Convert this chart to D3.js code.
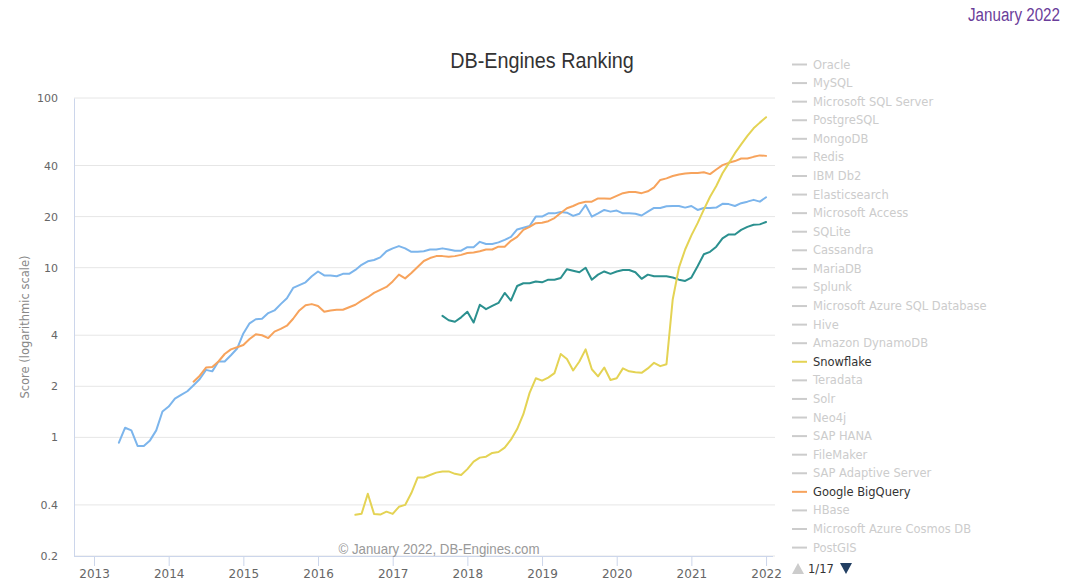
<!DOCTYPE html>
<html lang="en">
<head>
    <meta charset="UTF-8">
    <title>DB-Engines Ranking</title>
    <script src="https://d3js.org/d3.v7.min.js"></script>
    <style>
        body { margin: 0; background: #fff; overflow: hidden; }
        .narrow { font-family: "Liberation Sans", Arial, sans-serif; }
        .tick text { font-family: "DejaVu Sans", sans-serif; font-size: 11px; fill: #666; }
        .legend text { font-family: "DejaVu Sans", sans-serif; font-size: 11.5px; }
        .series { fill: none; stroke-width: 2px; stroke-linejoin: round; stroke-linecap: round; }
    </style>
</head>
<body>
    <div id="chart"></div>
    <script>
        const width = 1080, height = 583;
        const margin = { top: 98, right: 307, bottom: 27, left: 74 };

        // monthly scores, month index 0 = Jan 2013
        const blueStart = 4;
        const blueValues = [0.93, 1.14, 1.1, 0.89, 0.89, 0.96, 1.1, 1.42,
            1.52, 1.69, 1.78, 1.87, 2.03, 2.21, 2.5, 2.45, 2.8, 2.8, 3.05, 3.34,
            4.1, 4.7, 4.97, 5.0, 5.4, 5.6, 6.1, 6.6, 7.6, 7.9, 8.2, 8.9,
            9.5, 9.0, 9.0, 8.9, 9.2, 9.2, 9.7, 10.4, 10.9, 11.1, 11.5, 12.5,
            13.0, 13.4, 13.0, 12.4, 12.4, 12.5, 12.8, 12.8, 13.0, 12.8, 12.6, 12.6,
            13.2, 13.2, 14.2, 13.8, 13.8, 14.1, 14.6, 15.2, 16.8, 17.2, 17.6, 20.0,
            20.0, 20.9, 20.9, 21.3, 21.1, 20.2, 20.8, 23.4, 20.0, 20.9, 21.9, 21.4,
            21.7, 20.9, 20.9, 20.8, 20.3, 21.4, 22.5, 22.5, 23.0, 23.1, 23.1, 22.6,
            23.1, 21.9, 22.5, 22.5, 22.6, 23.8, 23.7, 23.1, 24.0, 24.5, 25.1, 24.5,
            26.0];

        const bigqueryStart = 16;
        const bigqueryValues = [2.13, 2.31, 2.58, 2.6, 2.8, 3.1, 3.3, 3.4,
            3.5, 3.8, 4.05, 4.0, 3.85, 4.2, 4.36, 4.55, 5.0, 5.6, 6.0, 6.1,
            5.95, 5.5, 5.6, 5.65, 5.65, 5.85, 6.05, 6.4, 6.7, 7.1, 7.4, 7.7,
            8.3, 9.1, 8.65, 9.3, 10.1, 10.95, 11.4, 11.7, 11.7, 11.6, 11.7, 11.9,
            12.2, 12.3, 12.5, 12.8, 12.8, 13.3, 13.3, 14.4, 15.2, 16.7, 17.4, 18.3,
            18.4, 18.8, 19.6, 21.0, 22.4, 23.1, 24.0, 24.5, 24.5, 25.6, 25.6, 25.5,
            26.5, 27.5, 27.9, 27.9, 27.5, 28.2, 29.7, 32.9, 33.6, 34.7, 35.4, 35.9,
            36.2, 36.2, 36.5, 35.6, 37.9, 40.2, 41.5, 42.5, 44.0, 44.0, 45.0, 45.9,
            45.6];

        const tealStart = 56;
        const tealValues = [5.2, 4.9, 4.8, 5.1,
            5.5, 4.75, 6.05, 5.7, 5.95, 6.2, 7.1, 6.4, 7.8, 8.1, 8.1, 8.3,
            8.2, 8.5, 8.5, 8.7, 9.8, 9.6, 9.4, 10.0, 8.5, 9.1, 9.5, 9.2,
            9.5, 9.7, 9.7, 9.4, 8.6, 9.1, 8.9, 8.9, 8.9, 8.75, 8.5, 8.35,
            8.75, 10.2, 12.0, 12.4, 13.3, 14.9, 15.7, 15.7, 16.7, 17.4, 17.9, 18.0,
            18.6];

        const snowflakeStart = 42;
        const snowflakeValues = [0.35, 0.355, 0.465, 0.354, 0.351, 0.365,
            0.354, 0.39, 0.40, 0.47, 0.58, 0.58, 0.60, 0.62, 0.63, 0.63, 0.61, 0.60,
            0.65, 0.72, 0.76, 0.77, 0.81, 0.82, 0.87, 0.97, 1.12, 1.37, 1.83, 2.23,
            2.16, 2.25, 2.39, 3.1, 2.9, 2.48, 2.8, 3.3, 2.52, 2.29, 2.58, 2.18,
            2.23, 2.55, 2.45, 2.42, 2.40, 2.55, 2.75, 2.63, 2.70, 6.5, 10.0, 12.8,
            15.5, 18.3, 22.0, 26.2, 30.3, 36.0, 41.2, 47.3, 53.3, 59.8, 66.3, 71.6,
            77.0];

        const yTicks = [0.2, 0.4, 1, 2, 4, 10, 20, 40, 100];
        const xTicks = [2013, 2014, 2015, 2016, 2017, 2018, 2019, 2020, 2021, 2022];

        const legendNames = ["Oracle", "MySQL", "Microsoft SQL Server", "PostgreSQL", "MongoDB",
            "Redis", "IBM Db2", "Elasticsearch", "Microsoft Access", "SQLite", "Cassandra",
            "MariaDB", "Splunk", "Microsoft Azure SQL Database", "Hive", "Amazon DynamoDB",
            "Snowflake", "Teradata", "Solr", "Neo4j", "SAP HANA", "FileMaker",
            "SAP Adaptive Server", "Google BigQuery", "HBase", "Microsoft Azure Cosmos DB", "PostGIS"];
        const activeColors = { "Snowflake": "#e4d354", "Google BigQuery": "#f7a35c" };

        const series = [
            { color: "#7cb5ec", start: blueStart, values: blueValues },
            { color: "#2b908f", start: tealStart, values: tealValues },
            { color: "#f7a35c", start: bigqueryStart, values: bigqueryValues },
            { color: "#e4d354", start: snowflakeStart, values: snowflakeValues }
        ];

        const svg = d3.select("#chart").append("svg")
            .attr("width", width)
            .attr("height", height);

        const x = d3.scaleLinear()
            .domain([2012.732, 2022.093])
            .range([margin.left, width - margin.right]);
        const y = d3.scaleLog()
            .domain([0.2, 100])
            .range([height - margin.bottom, margin.top]);

        // gridlines
        svg.append("g")
            .selectAll("line")
            .data(yTicks)
            .join("line")
            .attr("x1", margin.left)
            .attr("x2", width - margin.right + 2)
            .attr("y1", d => y(d))
            .attr("y2", d => y(d))
            .attr("stroke", "#e6e6e6")
            .attr("stroke-width", 1);

        // y axis
        const yAxis = svg.append("g")
            .attr("transform", `translate(${margin.left}, 0)`)
            .call(d3.axisLeft(y).tickValues(yTicks).tickSize(0).tickPadding(16).tickFormat(d3.format("~g")));
        yAxis.select(".domain").attr("stroke", "#ccd6eb");

        // x axis
        const xAxis = svg.append("g")
            .attr("transform", `translate(0, ${height - margin.bottom})`)
            .call(d3.axisBottom(x).tickValues(xTicks).tickSize(10).tickPadding(3).tickFormat(d3.format("d")));
        xAxis.select(".domain").attr("stroke", "#ccd6eb").attr("d", `M${margin.left},0.5H${width - margin.right}`);
        xAxis.selectAll(".tick line").attr("stroke", "#ccd6eb");
        xAxis.selectAll(".tick text").attr("class", "narrow").style("font-size", "12px").style("fill", "#666");

        // lines
        const line = d3.line()
            .x(d => x(2013 + d.m / 12))
            .y(d => y(d.v));

        svg.append("g")
            .selectAll("path")
            .data(series)
            .join("path")
            .attr("class", "series")
            .attr("stroke", d => d.color)
            .attr("d", d => line(d.values.map((v, i) => ({ m: d.start + i, v }))));

        // titles (squeezed a little, the original uses a condensed face)
        svg.append("text")
            .attr("class", "narrow")
            .attr("transform", `translate(${width / 2 + 2}, 68) scale(0.9, 1)`)
            .attr("text-anchor", "middle")
            .style("font-size", "22px")
            .style("fill", "#333")
            .text("DB-Engines Ranking");

        svg.append("text")
            .attr("class", "narrow")
            .attr("transform", "translate(1060, 21) scale(0.8, 1)")
            .attr("text-anchor", "end")
            .style("font-size", "19px")
            .style("fill", "#6a3d9a")
            .text("January 2022");

        svg.append("text")
            .attr("class", "narrow")
            .attr("transform", "translate(439, 554) scale(0.95, 1)")
            .attr("text-anchor", "middle")
            .style("font-size", "14px")
            .style("fill", "#999")
            .text("© January 2022, DB-Engines.com");

        svg.append("text")
            .attr("transform", `translate(29, ${(margin.top + height - margin.bottom) / 2}) rotate(-90)`)
            .attr("text-anchor", "middle")
            .style("font-family", "DejaVu Sans, sans-serif")
            .style("font-size", "11.5px")
            .style("fill", "#888")
            .text("Score (logarithmic scale)");

        // legend
        const legend = svg.append("g").attr("class", "legend")
            .selectAll("g")
            .data(legendNames)
            .join("g")
            .attr("transform", (d, i) => `translate(792, ${64.5 + i * 18.58})`);

        legend.append("line")
            .attr("x1", 0).attr("x2", 15)
            .attr("stroke", d => activeColors[d] || "#cccccc")
            .attr("stroke-width", 2);

        legend.append("text")
            .attr("x", 21)
            .attr("dy", "0.35em")
            .style("fill", d => activeColors[d] ? "#333" : "#cccccc")
            .text(d => d);

        // pager
        const pager = svg.append("g").attr("transform", "translate(792, 569)");
        pager.append("path").attr("d", "M0,5 L6,-6 L12,5 Z").attr("fill", "#cccccc");
        pager.append("text")
            .attr("x", 16).attr("dy", "0.35em")
            .style("font-family", "DejaVu Sans, sans-serif")
            .style("font-size", "11.5px")
            .style("fill", "#333")
            .text("1/17");
        pager.append("path").attr("d", "M48,-6 L60,-6 L54,5 Z").attr("fill", "#223f63");
    </script>
</body>
</html>
